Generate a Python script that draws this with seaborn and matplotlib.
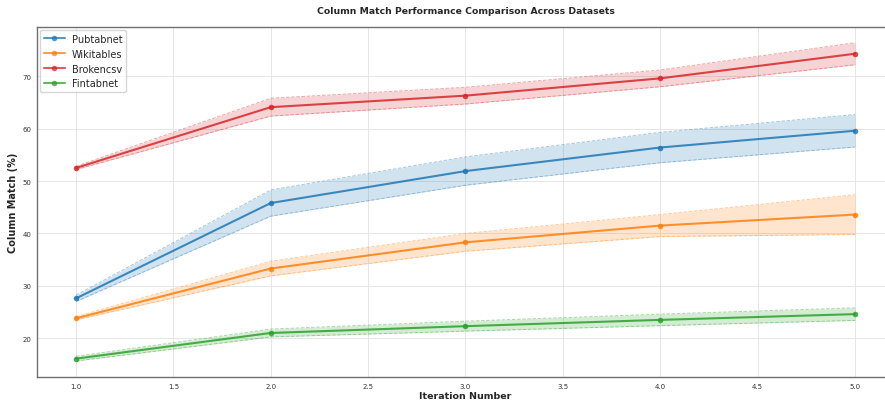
import matplotlib
matplotlib.use("Agg")
import matplotlib.pyplot as plt
import numpy as np
import pandas as pd
import seaborn as sns

iterations = [1, 2, 3, 4, 5]
datasets = ["Pubtabnet", "Wikitables", "Brokencsv", "Fintabnet"]

pubtabnet_mean = [27.6, 45.8, 51.9, 56.4, 59.6]
pubtabnet_std = [0.6, 2.5, 2.7, 2.9, 3.1]
wikitables_mean = [23.8, 33.3, 38.3, 41.5, 43.6]
wikitables_std = [0.3, 1.4, 1.7, 2.1, 3.8]
brokencsv_mean = [52.5, 64.1, 66.3, 69.6, 74.3]
brokencsv_std = [0.3, 1.7, 1.6, 1.6, 2.1]
fintabnet_mean = [16.1, 21.0, 22.3, 23.5, 24.6]
fintabnet_std = [0.45, 0.75, 0.95, 1.1, 1.2]

means = [pubtabnet_mean, wikitables_mean, brokencsv_mean, fintabnet_mean]
stds = [pubtabnet_std, wikitables_std, brokencsv_std, fintabnet_std]
colors = ["#1f77b4", "#ff7f0e", "#d62728", "#2ca02c"]

rows = []
for name, m, s in zip(datasets, means, stds):
    for it, mv, sv in zip(iterations, m, s):
        rows.append({"Iteration": it, "Match": mv, "Std": sv, "Dataset": name})
df = pd.DataFrame(rows)

sns.set_style("whitegrid")
fig = plt.figure(figsize=(8.85, 4.06), dpi=100)
ax = fig.add_axes([37 / 885, 0.069, (894 - 37) / 885, 0.862])

sns.lineplot(data=df, x="Iteration", y="Match", hue="Dataset", palette=colors,
             marker="o", markersize=4, markeredgewidth=0, linewidth=1.5,
             alpha=0.85, ax=ax)

for name, color in zip(datasets, colors):
    sub = df[df["Dataset"] == name]
    lo = sub["Match"] - sub["Std"]
    hi = sub["Match"] + sub["Std"]
    ax.fill_between(sub["Iteration"], lo, hi, color=color, alpha=0.2, linewidth=0)
    ax.plot(sub["Iteration"], lo, color=color, alpha=0.4, linewidth=0.7, linestyle="--")
    ax.plot(sub["Iteration"], hi, color=color, alpha=0.4, linewidth=0.7, linestyle="--")

ax.set_xlim(0.8, 5.2)
ax.set_ylim(12.6, 79.4)
ax.set_xticks([1.0, 1.5, 2.0, 2.5, 3.0, 3.5, 4.0, 4.5, 5.0])
ax.set_yticks([20, 30, 40, 50, 60, 70])
ax.tick_params(axis="both", labelsize=5, colors="#444444", length=2, width=0.6, pad=2)
ax.tick_params(axis="both", colors="#444444", labelcolor="#333333")
ax.grid(True, color="#e6e6e6", linewidth=0.7)
for side in ["left", "bottom", "top", "right"]:
    ax.spines[side].set_color("#707070")
    ax.spines[side].set_linewidth(1.0)

ax.set_xlabel("Iteration Number", fontsize=6.8, fontweight="bold", labelpad=2)
ax.set_ylabel("Column Match (%)", fontsize=7.0, fontweight="bold", labelpad=3)
ax.set_title("Column Match Performance Comparison Across Datasets",
             fontsize=6.7, fontweight="bold", pad=10)

leg = ax.legend(loc="upper left", fontsize=7.0, frameon=True, borderpad=0.4,
                labelspacing=0.5, handlelength=2.15, handletextpad=0.7,
                borderaxespad=0.3)
leg.get_frame().set_edgecolor("#cccccc")
for h in leg.get_lines():
    h.set_alpha(0.75)

fig.savefig("out.png", dpi=100)
